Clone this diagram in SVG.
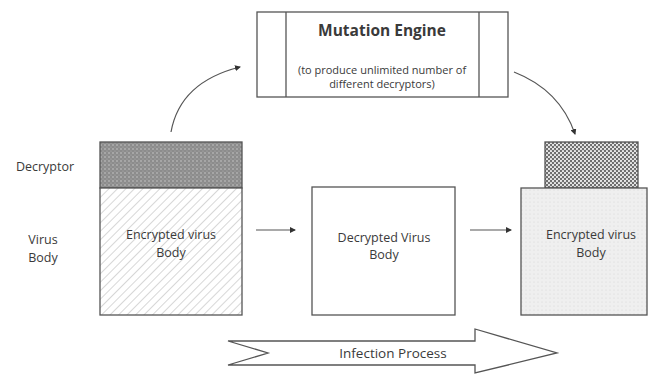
<svg xmlns="http://www.w3.org/2000/svg" width="650" height="374" viewBox="0 0 650 374">
<style>
text{font-family:"Open Sans","Liberation Sans",sans-serif;fill:#3a3a3a;text-anchor:middle}
.lbl{font-size:12.5px}
.sm{font-size:11px}
.ttl{font-size:15.5px;font-weight:bold}
.ip{font-size:13.5px}
.box{stroke:#555;stroke-width:1.3}
.con{fill:none;stroke:#555;stroke-width:1.2}
</style>
<defs>
<pattern id="hatch" width="6" height="6" patternUnits="userSpaceOnUse" patternTransform="rotate(45)">
<rect width="6" height="6" fill="#fff"/>
<line x1="0" y1="0" x2="0" y2="6" stroke="#bdbdbd" stroke-width="1.2"/>
</pattern>
<pattern id="dots1" width="4" height="4" patternUnits="userSpaceOnUse">
<rect width="4" height="4" fill="#8c8c8c"/>
<circle cx="1" cy="1" r="0.8" fill="#c8c8c8"/>
<circle cx="3" cy="3" r="0.6" fill="#b0b0b0"/>
</pattern>
<pattern id="dots2" width="4" height="4" patternUnits="userSpaceOnUse">
<rect width="4" height="4" fill="#6e6e6e"/>
<circle cx="1" cy="1" r="1.1" fill="#f0f0f0"/>
<circle cx="3" cy="3" r="1.1" fill="#f0f0f0"/>
</pattern>
<pattern id="dots3" width="4" height="4" patternUnits="userSpaceOnUse">
<rect width="4" height="4" fill="#efefef"/>
<circle cx="2" cy="2" r="0.6" fill="#d6d6d6"/>
</pattern>
<marker id="ah" markerWidth="6" markerHeight="6" refX="5" refY="3" orient="auto" markerUnits="userSpaceOnUse">
<path d="M0,0 L6,3 L0,6 Z" fill="#333"/>
</marker>
</defs>

<g id="mutation-engine">
<rect class="box" x="257" y="12" width="251" height="85" fill="#fff"/>
<line class="box" x1="286" y1="12" x2="286" y2="97"/>
<line class="box" x1="479" y1="12" x2="479" y2="97"/>
<text class="ttl" x="382" y="36">Mutation Engine</text>
<text class="sm" x="382" y="74">(to produce unlimited number of</text>
<text class="sm" x="382" y="88">different decryptors)</text>
</g>

<g id="label-decryptor"><text class="lbl" x="45" y="171">Decryptor</text></g>
<g id="label-virus-body"><text class="lbl" x="43" y="244">Virus</text><text class="lbl" x="43" y="262">Body</text></g>

<g id="left-decryptor"><rect class="box" x="100" y="142" width="142" height="46" fill="url(#dots1)"/></g>
<g id="left-body">
<rect class="box" x="100" y="188" width="142" height="127" fill="url(#hatch)"/>
<text class="lbl" x="171" y="239">Encrypted virus</text>
<text class="lbl" x="171" y="257">Body</text>
</g>

<g id="middle-body">
<rect class="box" x="312" y="187" width="143" height="128" fill="#fff"/>
<text class="lbl" x="384" y="242">Decrypted Virus</text>
<text class="lbl" x="384" y="259">Body</text>
</g>

<g id="right-decryptor"><rect class="box" x="545" y="142" width="93" height="46" fill="url(#dots2)"/></g>
<g id="right-body">
<rect class="box" x="521" y="188" width="126" height="127" fill="url(#dots3)"/>
<text class="lbl" x="591" y="239">Encrypted virus</text>
<text class="lbl" x="591" y="257">Body</text>
</g>

<g id="connectors">
<path class="con" d="M171,132 Q180,82 240,67" marker-end="url(#ah)"/>
<path class="con" d="M514,72 Q560,90 575,134" marker-end="url(#ah)"/>
<line class="con" x1="256" y1="230" x2="295" y2="230" marker-end="url(#ah)"/>
<line class="con" x1="470" y1="230" x2="511" y2="230" marker-end="url(#ah)"/>
</g>

<g id="infection-process">
<path d="M228,341 L475,341 L475,329 L557,353 L475,373 L475,365 L228,365 L268,353 Z" fill="#fff" stroke="#555" stroke-width="1.3"/>
<text class="ip" x="393" y="358">Infection Process</text>
</g>
</svg>
